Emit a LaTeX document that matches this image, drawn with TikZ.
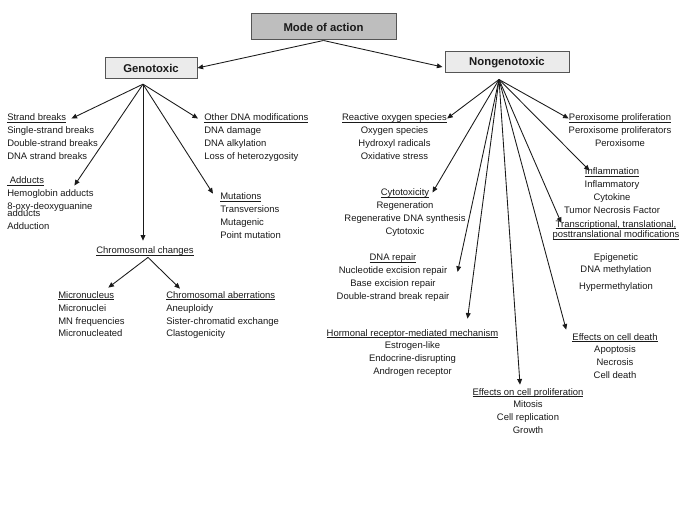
\documentclass[tikz,border=0pt]{standalone}
\usepackage{fontspec}
\setmainfont{Liberation Sans}
\usepackage{xcolor}
\definecolor{topc}{HTML}{BEBEBE}
\definecolor{subc}{HTML}{EBEBEB}
\definecolor{edgec}{HTML}{555555}
\definecolor{inkc}{HTML}{1A1A1A}
\usepackage{tikz}
\usetikzlibrary{arrows.meta,positioning,calc}
\newcommand{\listfnt}{\fontsize{7.1pt}{9.4pt}\selectfont}
\newcommand{\boxfnt}{\fontsize{8.5pt}{10pt}\selectfont\bfseries}
\newcommand{\uhead}[1]{\setbox0=\hbox{#1}\rlap{\rule[-1.3pt]{\wd0}{0.55pt}}\box0}
\tikzset{
  >={Triangle[length=4.2pt,width=3.6pt]},
  node distance=2.6pt,
  topbox/.style={draw=edgec,line width=0.75pt,fill=topc,minimum width=108.75pt,minimum height=19.5pt,inner sep=1pt,font=\boxfnt},
  subbox/.style={draw=edgec,line width=0.75pt,fill=subc,minimum height=16pt,inner sep=1pt,font=\boxfnt},
  head/.style={font=\listfnt,inner sep=0pt,text height=5.3pt,text depth=1.6pt},
  lhead/.style={head,anchor=base west},
  chead/.style={head,anchor=base},
  list/.style={font=\listfnt,inner sep=0pt,align=left},
  clist/.style={font=\listfnt,inner sep=0pt,align=center},
  link/.style={->,line width=0.65pt,draw=inkc},
}
\begin{document}
\begin{tikzpicture}[x=0.75pt,y=-0.75pt,text=inkc]
  \useasboundingbox (0,0) rectangle (685,513);
  % top level boxes
  \node[topbox] (moa) at (323.5,27) {Mode of action};
  \node[subbox,minimum width=69pt] (geno) at (151,68) {Genotoxic};
  \node[subbox,minimum width=93pt,minimum height=15.75pt] (nongeno) at (507,62.5) {Nongenotoxic};
  \draw[link] (moa.south) -- (geno.east);
  \draw[link] (moa.south) -- ($(nongeno.west)+(-2,4.5)$);
  \coordinate (gfan) at ($(geno.south)+(-8,5)$);
  \coordinate (nfan) at ($(nongeno.south)+(-8,6)$);
  % genotoxic
  \node[lhead] (sb) at (7,121) {\uhead{Strand breaks}};
  \node[list,below=of sb.south west,anchor=north west] (sbl) {Single-strand breaks\\Double-strand breaks\\DNA strand breaks};
  \node[lhead] (ad) at (7,184) {\uhead{\ Adducts}};
  \node[list,below=of ad.south west,anchor=north west] (adl) {Hemoglobin adducts\\8-oxy-deoxyguanine\\[-4.15pt]adducts\\Adduction};
  \node[lhead] (od) at (204,121) {\uhead{Other DNA modifications}};
  \node[list,below=of od.south west,anchor=north west] (odl) {DNA damage\\DNA alkylation\\Loss of heterozygosity};
  \node[lhead] (mu) at (220,200) {\uhead{Mutations}};
  \node[list,below=of mu.south west,anchor=north west] (mul) {Transversions\\Mutagenic\\Point mutation};
  \node[chead] (cc) at (145,254) {\uhead{Chromosomal changes}};
  \node[lhead] (mn) at (58,298) {\uhead{Micronucleus}};
  \node[list,below=3pt of mn.south west,anchor=north west] (mnl) {Micronuclei\\MN frequencies\\Micronucleated};
  \node[lhead] (ca) at (166,298) {\uhead{Chromosomal aberrations}};
  \node[list,below=3pt of ca.south west,anchor=north west] (cal) {Aneuploidy\\Sister-chromatid exchange\\Clastogenicity};
  \draw[link] (gfan) -- ($(sb.east)+(5,0)$);
  \draw[link] (gfan) -- ($(ad.east)+(30,4)$);
  \draw[link] (gfan) -- ($(gfan |- cc.north)+(0,-6)$);
  \draw[link] (gfan) -- ($(mu.north west)+(-7,1)$);
  \draw[link] (gfan) -- ($(od.west)+(-6,0)$);
  \draw[link] ($(cc.south)+(3,1)$) -- ($(mn.north east)+(-6,-3)$);
  \draw[link] ($(cc.south)+(3,1)$) -- ($(ca.north west)+(14,-2)$);
  % nongenotoxic
  \node[chead] (ros) at (394.5,121) {\uhead{Reactive oxygen species}};
  \node[clist,below=of ros] (rosl) {Oxygen species\\Hydroxyl radicals\\Oxidative stress};
  \node[chead] (pp) at (620,121) {\uhead{Peroxisome proliferation}};
  \node[clist,below=of pp] (ppl) {Peroxisome proliferators\\Peroxisome};
  \node[chead] (infl) at (612,175) {\uhead{Inflammation}};
  \node[clist,below=of infl] (infll) {Inflammatory\\Cytokine\\Tumor Necrosis Factor};
  \node[chead] (cyto) at (405,196) {\uhead{Cytotoxicity}};
  \node[clist,below=of cyto] (cytol) {Regeneration\\Regenerative DNA synthesis\\Cytotoxic};
  \node[font={\fontsize{7.1pt}{7.9pt}\selectfont},inner sep=0pt,align=center,anchor=north] (tr) at (616,220)
    {\uhead{Transcriptional, translational,}\\\uhead{posttranslational modifications}};
  \node[clist,below=10pt of tr] (trl) {Epigenetic\\DNA methylation\\[3.4pt]Hypermethylation};
  \node[chead] (dr) at (393,261) {\uhead{DNA repair}};
  \node[clist,below=of dr] (drl) {Nucleotide excision repair\\Base excision repair\\Double-strand break repair};
  \node[chead] (hr) at (412.5,336) {\uhead{Hormonal receptor-mediated mechanism}};
  \node[clist,below=of hr] (hrl) {Estrogen-like\\Endocrine-disrupting\\Androgen receptor};
  \node[chead] (cd) at (615,340) {\uhead{Effects on cell death}};
  \node[clist,below=of cd] (cdl) {Apoptosis\\Necrosis\\Cell death};
  \node[chead] (cp) at (528,395) {\uhead{Effects on cell proliferation}};
  \node[clist,below=of cp] (cpl) {Mitosis\\Cell replication\\Growth};
  \draw[link] (nfan) -- (ros.east);
  \draw[link] (nfan) -- (pp.west);
  \draw[link] (nfan) -- ($(infl.north west)+(5,3)$);
  \draw[link] (nfan) -- ($(cyto.east)+(3,-1)$);
  \draw[link] (nfan) -- ($(tr.north west)+(9,3)$);
  \draw[link] (nfan) -- ($(drl.north east)+(8,5)$);
  \draw[link] (nfan) -- ($(hr.north east)+(-31,-10)$);
  \draw[link] (nfan) -- ($(cp.north)+(-8,-3)$);
  \draw[link] (nfan) -- ($(cd.north west)+(-6,-3)$);
\end{tikzpicture}
\end{document}
